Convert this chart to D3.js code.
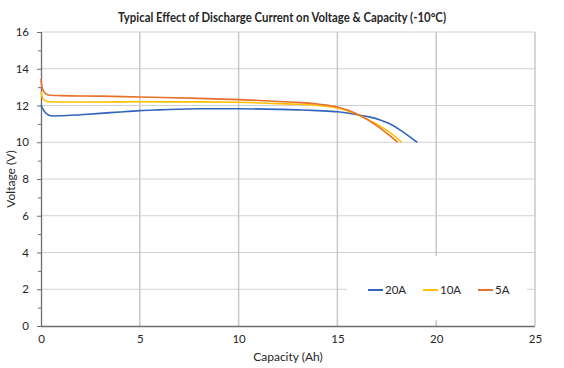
<!DOCTYPE html>
<html>
<head>
<meta charset="utf-8">
<script src="https://cdn.jsdelivr.net/npm/d3@7"></script>
<style>
  html, body { margin: 0; padding: 0; background: #fff; }
  svg text { font-family: Lato, "Open Sans", "Liberation Sans", sans-serif; fill: #262626; }
</style>
</head>
<body>
<svg id="chart" width="564" height="368"></svg>
<script>
// ---- data ----
const seriesNames = ["20A", "10A", "5A"];
const seriesColors = ["#3264C0", "#FFC000", "#E8702A"];

const cap20A = [0, 0.1, 0.25, 0.4, 0.6, 1, 2, 3, 4, 5, 6, 8, 10, 12, 13, 14, 15, 15.5, 16.1, 16.6, 17.2, 17.6, 18.2, 18.6, 19.04];
const volt20A = [12.03, 11.8, 11.58, 11.47, 11.43, 11.44, 11.5, 11.57, 11.65, 11.72, 11.76, 11.82, 11.82, 11.79, 11.76, 11.72, 11.66, 11.59, 11.48, 11.38, 11.2, 11.03, 10.65, 10.35, 10.0];

const cap10A = [0, 0.05, 0.15, 0.3, 0.5, 1, 3, 5, 8, 10, 12, 13, 14, 15, 15.5, 16.1, 16.6, 17.2, 17.7, 18.25];
const volt10A = [12.75, 12.5, 12.3, 12.22, 12.2, 12.19, 12.19, 12.2, 12.2, 12.18, 12.1, 12.07, 12.0, 11.86, 11.72, 11.48, 11.2, 10.85, 10.5, 10.0];

const cap5A = [0, 0.05, 0.15, 0.3, 0.5, 1, 3, 5, 8, 10, 12, 13, 14, 15, 15.5, 16.1, 16.6, 17.2, 17.6, 18.05];
const volt5A = [13.45, 13.0, 12.75, 12.6, 12.56, 12.54, 12.51, 12.46, 12.39, 12.32, 12.22, 12.17, 12.08, 11.92, 11.75, 11.48, 11.18, 10.74, 10.4, 10.0];

const xTicks = [0, 5, 10, 15, 20, 25];
const yTicks = [0, 2, 4, 6, 8, 10, 12, 14, 16];
const yMinorTicks = [1, 3, 5, 7, 9, 11, 13, 15];

const titleText = "Typical Effect of Discharge Current on Voltage & Capacity (-10°C)";
const xTitle = "Capacity (Ah)";
const yTitle = "Voltage (V)";

// ---- layout ----
const svg = d3.select("#chart");
const plotL = 41, plotR = 535, plotT = 32, plotB = 326;
const x = d3.scaleLinear().domain([0, 25]).range([plotL, plotR]);
const y = d3.scaleLinear().domain([0, 16]).range([plotB, plotT]);

// gridlines
const grid = svg.append("g");
grid.selectAll("line.h").data(yTicks.filter(d => d > 0)).enter().append("line")
  .attr("x1", plotL).attr("x2", plotR)
  .attr("y1", d => y(d)).attr("y2", d => y(d))
  .attr("stroke", "#D0D0D0").attr("stroke-width", 1);
grid.selectAll("line.v").data(xTicks.filter(d => d > 0)).enter().append("line")
  .attr("x1", d => x(d)).attr("x2", d => x(d))
  .attr("y1", plotT).attr("y2", plotB)
  .attr("stroke", "#C8C8C8").attr("stroke-width", 1.5);

// axes
const yAxis = d3.axisLeft(y).tickValues(yTicks).tickSize(4).tickPadding(8).tickFormat(d3.format("d"));
const yAxisMinor = d3.axisLeft(y).tickValues(yMinorTicks).tickSize(3).tickFormat("");
const xAxis = d3.axisBottom(x).tickValues(xTicks).tickSize(0).tickPadding(9).tickFormat(d3.format("d"));

const gy = svg.append("g").attr("transform", `translate(${plotL},0)`).call(yAxis);
const gyMinor = svg.append("g").attr("transform", `translate(${plotL},0)`).call(yAxisMinor);
gyMinor.select(".domain").remove();
const gx = svg.append("g").attr("transform", `translate(0,${plotB})`).call(xAxis);

[gy, gx, gyMinor].forEach(g => {
  g.select(".domain").attr("stroke", "#6E6E6E").attr("stroke-width", 1.3);
  g.selectAll(".tick line").attr("stroke", "#6E6E6E");
  g.selectAll(".tick text").attr("font-size", "11.5px").attr("fill", "#262626")
    .attr("font-family", "Lato, 'Open Sans', sans-serif");
});
gy.select(".domain").attr("d", `M0.5,${plotT}V${plotB}`);
gx.select(".domain").attr("d", `M${plotL},0.5H${plotR}`);

// legend background
svg.append("rect")
  .attr("x", 347).attr("y", 256).attr("width", 180).attr("height", 64)
  .attr("fill", "#fff");

// lines
const seriesData = [
  cap20A.map((c, i) => [c, volt20A[i]]),
  cap10A.map((c, i) => [c, volt10A[i]]),
  cap5A.map((c, i) => [c, volt5A[i]])
];
const line = d3.line().x(d => x(d[0])).y(d => y(d[1])).curve(d3.curveMonotoneX);
seriesData.forEach((s, i) => {
  svg.append("path").datum(s)
    .attr("d", line)
    .attr("fill", "none")
    .attr("stroke", seriesColors[i])
    .attr("stroke-width", 1.6)
    .attr("stroke-linejoin", "round");
});

// legend
const legendX = [368, 423, 478];
seriesNames.forEach((name, i) => {
  svg.append("line")
    .attr("x1", legendX[i]).attr("x2", legendX[i] + 15)
    .attr("y1", 290).attr("y2", 290)
    .attr("stroke", seriesColors[i]).attr("stroke-width", 2);
  svg.append("text")
    .attr("x", legendX[i] + 17).attr("y", 294)
    .attr("font-size", "11.5px")
    .text(name);
});

// titles
svg.append("text")
  .attr("x", 282).attr("y", 22)
  .attr("text-anchor", "middle")
  .attr("font-size", "13.5px").attr("font-weight", "bold")
  .attr("font-family", "'Open Sans', Lato, sans-serif")
  .attr("textLength", 328).attr("lengthAdjust", "spacingAndGlyphs")
  .text(titleText);

svg.append("text")
  .attr("x", 288).attr("y", 361)
  .attr("text-anchor", "middle")
  .attr("font-size", "12px")
  .text(xTitle);

svg.append("text")
  .attr("transform", `translate(15,${(plotT + plotB) / 2}) rotate(-90)`)
  .attr("text-anchor", "middle")
  .attr("font-size", "12px")
  .text(yTitle);
</script>
</body>
</html>
